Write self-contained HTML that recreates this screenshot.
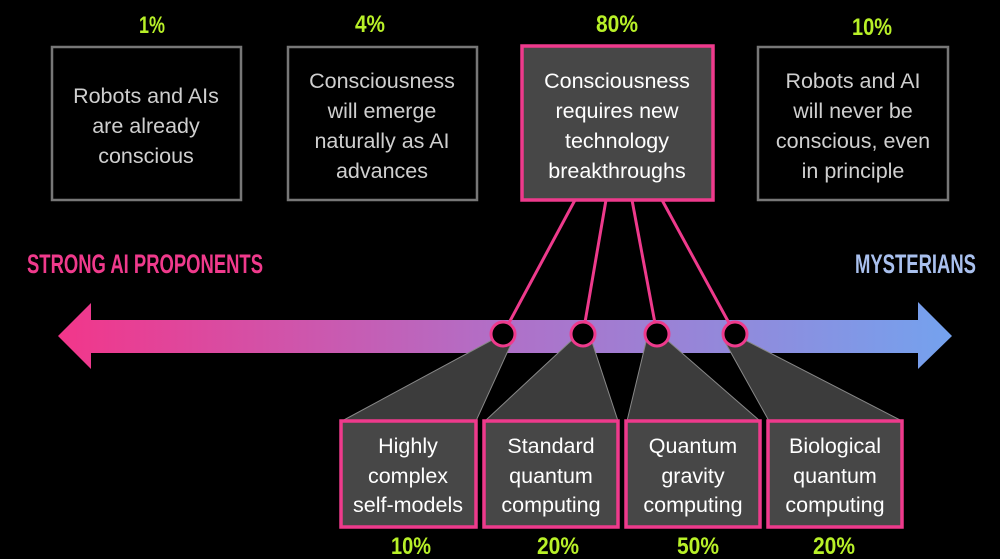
<!DOCTYPE html>
<html><head><style>
html,body{margin:0;padding:0;background:#000;}
svg{display:block}
</style></head><body>
<svg width="1000" height="559" viewBox="0 0 1000 559" xmlns="http://www.w3.org/2000/svg">
<defs>
<linearGradient id="g" x1="58" y1="0" x2="952" y2="0" gradientUnits="userSpaceOnUse">
<stop offset="0" stop-color="#f2368a"/>
<stop offset="0.5" stop-color="#b070c8"/>
<stop offset="1" stop-color="#74a2ee"/>
</linearGradient>
</defs>
<rect width="1000" height="559" fill="#000"/>
<polygon points="58,336 91,303 91,320 918,320 918,302 952,336 918,369 918,353 91,353 91,369" fill="url(#g)"/>
<g fill="#3c3c3c" stroke="#888" stroke-width="1">
<polygon points="492,340 512,342 476,421 342,421"/>
<polygon points="572,340 592,342 618,421 485,421"/>
<polygon points="646,342 667,340 760,421 627,421"/>
<polygon points="725,342 745,340 902,421 769,421"/>
</g>
<g stroke="#ee3a8c" stroke-width="3">
<line x1="575" y1="200" x2="503" y2="334"/>
<line x1="606" y1="200" x2="583" y2="334"/>
<line x1="632" y1="200" x2="657" y2="334"/>
<line x1="662" y1="200" x2="735" y2="334"/>
</g>
<g fill="#000" stroke="#ee3a8c" stroke-width="3">
<circle cx="503" cy="334" r="12"/>
<circle cx="583" cy="334" r="12"/>
<circle cx="657" cy="334" r="12"/>
<circle cx="735" cy="334" r="12"/>
</g>
<g fill="none" stroke="#777" stroke-width="2.5">
<rect x="52" y="47" width="189" height="153"/>
<rect x="288" y="47" width="189" height="153"/>
<rect x="758" y="47" width="190" height="153"/>
</g>
<rect x="522" y="46" width="191" height="154" fill="#474747" stroke="#ee3a8c" stroke-width="3.5"/>
<g fill="#474747" stroke="#ee3a8c" stroke-width="3.5">
<rect x="341" y="421" width="135" height="106"/>
<rect x="484" y="421" width="134" height="106"/>
<rect x="626" y="421" width="134" height="106"/>
<rect x="768" y="421" width="134" height="106"/>
</g>
<g font-family="Liberation Sans, sans-serif" font-size="21.5" text-anchor="middle" fill="#cfcfcf">
<text x="146" y="103">Robots and AIs</text>
<text x="146" y="133">are already</text>
<text x="146" y="163">conscious</text>
<text x="382" y="88">Consciousness</text>
<text x="382" y="118">will emerge</text>
<text x="382" y="148">naturally as AI</text>
<text x="382" y="178">advances</text>
<text x="853" y="88">Robots and AI</text>
<text x="853" y="118">will never be</text>
<text x="853" y="148">conscious, even</text>
<text x="853" y="178">in principle</text>
</g>
<g font-family="Liberation Sans, sans-serif" font-size="21.5" text-anchor="middle" fill="#fff">
<text x="617" y="88">Consciousness</text>
<text x="617" y="118">requires new</text>
<text x="617" y="148">technology</text>
<text x="617" y="178">breakthroughs</text>
<text x="408" y="453">Highly</text>
<text x="408" y="483">complex</text>
<text x="408" y="512" textLength="110" lengthAdjust="spacingAndGlyphs">self-models</text>
<text x="551" y="453">Standard</text>
<text x="551" y="483">quantum</text>
<text x="551" y="512">computing</text>
<text x="693" y="453">Quantum</text>
<text x="693" y="483">gravity</text>
<text x="693" y="512">computing</text>
<text x="835" y="453">Biological</text>
<text x="835" y="483">quantum</text>
<text x="835" y="512">computing</text>
</g>
<g font-family="Liberation Sans Narrow, Liberation Sans, sans-serif" font-weight="bold" font-size="24" text-anchor="middle" fill="#b8f028">
<text x="152" y="33" textLength="26" lengthAdjust="spacingAndGlyphs">1%</text>
<text x="370" y="32" textLength="30" lengthAdjust="spacingAndGlyphs">4%</text>
<text x="617" y="32" textLength="42" lengthAdjust="spacingAndGlyphs">80%</text>
<text x="872" y="35" textLength="40" lengthAdjust="spacingAndGlyphs">10%</text>
<text x="411" y="554" textLength="40" lengthAdjust="spacingAndGlyphs">10%</text>
<text x="558" y="554" textLength="42" lengthAdjust="spacingAndGlyphs">20%</text>
<text x="698" y="554" textLength="42" lengthAdjust="spacingAndGlyphs">50%</text>
<text x="834" y="554" textLength="42" lengthAdjust="spacingAndGlyphs">20%</text>
</g>
<g font-family="Liberation Sans Narrow, Liberation Sans, sans-serif" font-weight="bold" font-size="27">
<text x="27" y="273" fill="#f03a8c" textLength="236" lengthAdjust="spacingAndGlyphs">STRONG AI PROPONENTS</text>
<text x="855" y="273" fill="#a9c0ee" textLength="121" lengthAdjust="spacingAndGlyphs">MYSTERIANS</text>
</g>
</svg>
</body></html>
